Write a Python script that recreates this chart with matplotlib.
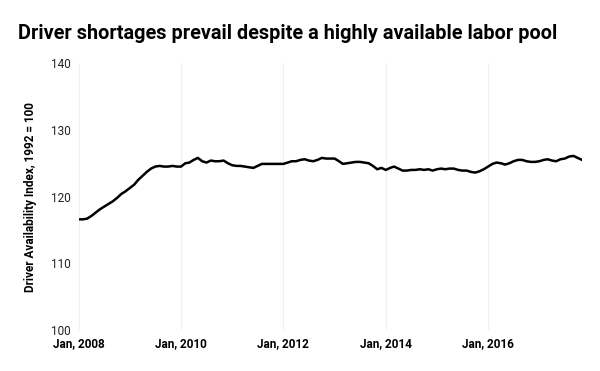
import numpy as np
import pandas as pd
import matplotlib
matplotlib.use("Agg")
import matplotlib.pyplot as plt
import matplotlib.dates as mdates

# monthly index values, Jan 2008 .. Nov 2017
index_values = [
    116.6, 116.6, 116.7, 117.1, 117.6, 118.1, 118.5, 118.9, 119.3, 119.8,
    120.4, 120.8, 121.3, 121.8, 122.5, 123.1, 123.7, 124.2, 124.5, 124.6,
    124.5, 124.5, 124.6, 124.5, 124.5, 125.0, 125.1, 125.5, 125.8, 125.3,
    125.1, 125.4, 125.3, 125.3, 125.4, 125.0, 124.7, 124.6, 124.6, 124.5,
    124.4, 124.3, 124.6, 124.9, 124.9, 124.9, 124.9, 124.9, 124.9, 125.1,
    125.3, 125.3, 125.5, 125.6, 125.4, 125.3, 125.5, 125.8, 125.7, 125.7,
    125.7, 125.3, 124.9, 125.0, 125.1, 125.2, 125.2, 125.1, 125.0, 124.6,
    124.1, 124.3, 124.0, 124.3, 124.5, 124.2, 123.9, 123.9, 124.0, 124.0,
    124.1, 124.0, 124.1, 123.9, 124.1, 124.2, 124.1, 124.2, 124.2, 124.0,
    123.9, 123.9, 123.7, 123.6, 123.8, 124.1, 124.5, 124.9, 125.1, 125.0,
    124.8, 125.0, 125.3, 125.5, 125.5, 125.3, 125.2, 125.2, 125.3, 125.5,
    125.6, 125.4, 125.3, 125.6, 125.7, 126.0, 126.1, 125.8, 125.5,
]
months = pd.date_range("2008-01-01", periods=len(index_values), freq="MS")

y_ticks = [100, 110, 120, 130, 140]
x_ticks = pd.to_datetime(["2008-01-01", "2010-01-01", "2012-01-01",
                          "2014-01-01", "2016-01-01"])
x_labels = ["Jan, 2008", "Jan, 2010", "Jan, 2012", "Jan, 2014", "Jan, 2016"]

plt.rcParams['font.family'] = ['Roboto', 'DejaVu Sans']

fig = plt.figure(figsize=(6, 3.71), dpi=100)
ax = fig.add_axes([0.131, 0.11, 0.839, 0.72])

ax.plot(months, index_values, color="black", linewidth=1.8,
        solid_joinstyle="round")

ax.set_ylim(100, 140)
ax.set_xlim(months[0], months[-1])
ax.set_yticks(y_ticks)
ax.set_xticks(x_ticks)
ax.set_xticklabels(x_labels, fontweight="bold", fontsize=8.5)
ax.tick_params(axis="y", labelsize=8.5, length=0, pad=6, colors="#222222")
ax.tick_params(axis="x", length=0, pad=5)

ax.grid(axis="x", color="#f0f0f0", linewidth=0.8)
ax.grid(axis="y", visible=False)
for s in ax.spines.values():
    s.set_visible(False)

ax.set_ylabel("Driver Availability Index, 1992 = 100", fontsize=8.5,
              fontweight="bold", labelpad=10)

fig.text(0.03, 0.91, "Driver shortages prevail despite a highly available labor pool",
         fontsize=14.3, fontweight="bold", va="center", ha="left")

fig.savefig("out.png", dpi=100)
